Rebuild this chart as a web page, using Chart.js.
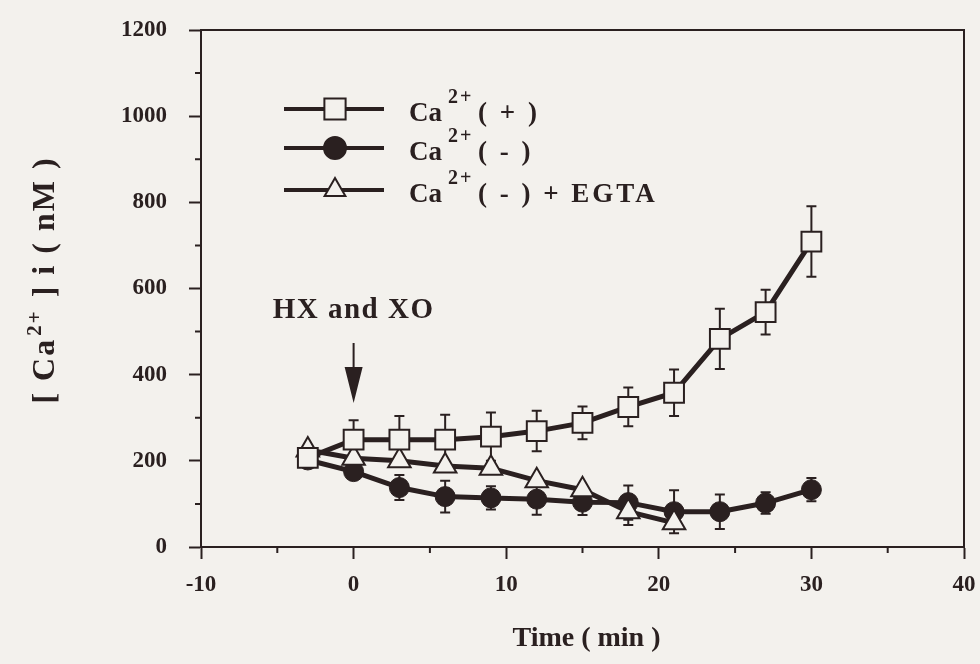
<!DOCTYPE html>
<html>
<head>
<meta charset="utf-8">
<script src="https://cdn.jsdelivr.net/npm/chart.js@4/dist/chart.umd.min.js"></script>
<style>
  html, body { margin: 0; padding: 0; background: #f3f1ed; }
  canvas { display: block; }
</style>
</head>
<body>
<canvas id="c" width="980" height="664"></canvas>
<script>
// ---- data ----
const timeMin = [-3, 0, 3, 6, 9, 12, 15, 18, 21, 24, 27, 30];
const caPlus = [207, 249, 249, 249, 256, 269, 288, 325, 358, 483, 545, 709];
const caPlusErr = [10, 45, 55, 58, 56, 47, 38, 45, 54, 70, 52, 82];
const caMinus = [202, 175, 138, 117, 114, 111, 104, 103, 82, 82, 102, 133];
const caMinusErr = [8, 12, 29, 37, 27, 36, 30, 40, 50, 40, 25, 27];
const egtaTime = [-3, 0, 3, 6, 9, 12, 15, 18, 21];
const caEgta = [225, 206, 200, 188, 183, 154, 133, 82, 56];
const caEgtaErr = [8, 8, 8, 8, 8, 8, 8, 31, 14];
const xMinorTicks = [-5, 5, 15, 25, 35];
const yMinorTicks = [100, 300, 500, 700, 900, 1100];
const legendLabels = ['( + )', '( - )', '( - ) + EGTA'];

const ink = '#2a2020';
const bg = '#f3f1ed';
const serif = "'Liberation Serif', 'Times New Roman', serif";

function pts(xs, ys) { return xs.map((t, i) => ({ x: t, y: ys[i] })); }

function spacing(ctx, v) { try { ctx.letterSpacing = v; } catch (e) {} }

const errorBars = {
  id: 'errorBars',
  beforeDatasetsDraw(chart) {
    const { ctx, scales: { x, y } } = chart;
    ctx.save();
    ctx.strokeStyle = ink;
    ctx.lineWidth = 2;
    chart.data.datasets.forEach(ds => {
      (ds.data || []).forEach((p, i) => {
        const e = ds.errors[i];
        if (!e) return;
        const px = x.getPixelForValue(p.x);
        const yt = y.getPixelForValue(p.y + e);
        const yb = y.getPixelForValue(p.y - e);
        ctx.beginPath();
        ctx.moveTo(px, yt); ctx.lineTo(px, yb);
        ctx.moveTo(px - 5, yt); ctx.lineTo(px + 5, yt);
        ctx.moveTo(px - 5, yb); ctx.lineTo(px + 5, yb);
        ctx.stroke();
      });
    });
    ctx.restore();
  }
};

const background = {
  id: 'background',
  beforeDraw(chart) {
    const { ctx } = chart;
    ctx.save();
    ctx.fillStyle = bg;
    ctx.fillRect(0, 0, chart.width, chart.height);
    ctx.restore();
  }
};

const decorations = {
  id: 'decorations',
  afterDraw(chart) {
    const { ctx, chartArea: a, scales: { x, y } } = chart;
    ctx.save();
    ctx.strokeStyle = ink;
    ctx.fillStyle = ink;
    ctx.lineWidth = 2;
    // box top & right
    ctx.beginPath();
    ctx.moveTo(a.left, a.top); ctx.lineTo(a.right, a.top); ctx.lineTo(a.right, a.bottom);
    ctx.stroke();
    // minor ticks
    ctx.beginPath();
    xMinorTicks.forEach(v => { const px = x.getPixelForValue(v); ctx.moveTo(px, a.bottom); ctx.lineTo(px, a.bottom + 6); });
    yMinorTicks.forEach(v => { const py = y.getPixelForValue(v); ctx.moveTo(a.left - 6, py); ctx.lineTo(a.left, py); });
    ctx.stroke();

    // legend
    const rows = [
      { y: 109, style: 'rect', r: 15, fill: bg },
      { y: 148, style: 'circle', r: 11, fill: ink },
      { y: 190, style: 'triangle', r: 12, fill: bg }
    ];
    rows.forEach((row, i) => {
      ctx.lineWidth = 4;
      ctx.beginPath(); ctx.moveTo(284, row.y); ctx.lineTo(384, row.y); ctx.stroke();
      ctx.lineWidth = 2;
      ctx.fillStyle = row.fill;
      Chart.helpers.drawPoint(ctx, { pointStyle: row.style, radius: row.r, rotation: 0, borderWidth: 2 }, 335, row.y);
      ctx.fillStyle = ink;
      ctx.textBaseline = 'alphabetic';
      ctx.textAlign = 'left';
      spacing(ctx, '0px');
      ctx.font = 'bold 27px ' + serif;
      ctx.fillText('Ca', 409, row.y + 12);
      spacing(ctx, '2px');
      ctx.font = 'bold 20px ' + serif;
      ctx.fillText('2+', 448, row.y - 6);
      spacing(ctx, '3px');
      ctx.font = 'bold 27px ' + serif;
      ctx.fillText(legendLabels[i], 478, row.y + 12);
    });

    // annotation
    const ax = x.getPixelForValue(0);
    spacing(ctx, '1.5px');
    ctx.font = 'bold 29px ' + serif;
    ctx.textAlign = 'center';
    ctx.fillText('HX and XO', ax, 318);
    spacing(ctx, '0px');
    ctx.lineWidth = 2;
    ctx.beginPath(); ctx.moveTo(ax, 343); ctx.lineTo(ax, 370); ctx.stroke();
    ctx.beginPath(); ctx.moveTo(ax - 9, 367); ctx.lineTo(ax + 9, 367); ctx.lineTo(ax, 403); ctx.closePath(); ctx.fill();

    // x title
    ctx.font = 'bold 28px ' + serif;
    ctx.textAlign = 'center';
    ctx.fillText('Time ( min )', (a.left + a.right) / 2 + 4, 646);

    // y title (rotated) with superscript
    ctx.save();
    ctx.translate(54, 280);
    ctx.rotate(-Math.PI / 2);
    spacing(ctx, '2px');
    const big = 'bold 32px ' + serif, small = 'bold 21px ' + serif;
    const parts = [['[ Ca', big, 0], ['2+', small, -13], [' ] i ( nM )', big, 0]];
    let total = 0;
    parts.forEach(p => { ctx.font = p[1]; total += ctx.measureText(p[0]).width + (p[0] === '2+' ? 4 : 0); });
    let cx = -total / 2;
    ctx.textAlign = 'left';
    parts.forEach(p => {
      ctx.font = p[1];
      if (p[0] === '2+') cx += 2;
      ctx.fillText(p[0], cx, p[2]);
      cx += ctx.measureText(p[0]).width + (p[0] === '2+' ? 2 : 0);
    });
    ctx.restore();
    ctx.restore();
  }
};

function noPad(s) { s.paddingTop = 0; s.paddingBottom = 0; s.paddingLeft = 0; s.paddingRight = 0; }

new Chart(document.getElementById('c'), {
  type: 'line',
  data: {
    datasets: [
      { label: 'Ca2+ (+)', data: pts(timeMin, caPlus), errors: caPlusErr, borderColor: ink, borderWidth: 5,
        pointStyle: 'rect', pointRadius: 14, pointBackgroundColor: bg, pointBorderColor: ink, pointBorderWidth: 2, order: 0 },
      { label: 'Ca2+ (-) + EGTA', data: pts(egtaTime, caEgta), errors: caEgtaErr, borderColor: ink, borderWidth: 5,
        pointStyle: 'triangle', pointRadius: 13, pointBackgroundColor: bg, pointBorderColor: ink, pointBorderWidth: 2, order: 1 },
      { label: 'Ca2+ (-)', data: pts(timeMin, caMinus), errors: caMinusErr, borderColor: ink, borderWidth: 5,
        pointStyle: 'circle', pointRadius: 10, pointBackgroundColor: ink, pointBorderColor: ink, pointBorderWidth: 1, order: 2 }
    ]
  },
  options: {
    responsive: false,
    animation: false,
    devicePixelRatio: 1,
    clip: false,
    layout: { padding: { top: 30, right: 14, left: 0, bottom: 0 } },
    plugins: { legend: { display: false }, tooltip: { enabled: false } },
    scales: {
      x: {
        type: 'linear', min: -10, max: 40,
        ticks: { stepSize: 10, color: ink, padding: 12, callback: v => String(v), font: { family: serif, size: 23, weight: 'bold' } },
        grid: { drawOnChartArea: false, tickLength: 12, tickWidth: 2, tickColor: ink },
        border: { color: ink, width: 2 },
        afterFit(s) { s.height = 117; noPad(s); }
      },
      y: {
        min: 0, max: 1200,
        ticks: { stepSize: 200, color: ink, padding: 22, callback: v => String(v), font: { family: serif, size: 23, weight: 'bold' } },
        grid: { drawOnChartArea: false, tickLength: 12, tickWidth: 2, tickColor: ink },
        border: { color: ink, width: 2 },
        afterFit(s) { s.width = 201; noPad(s); }
      }
    }
  },
  plugins: [background, errorBars, decorations]
});
</script>
</body>
</html>
